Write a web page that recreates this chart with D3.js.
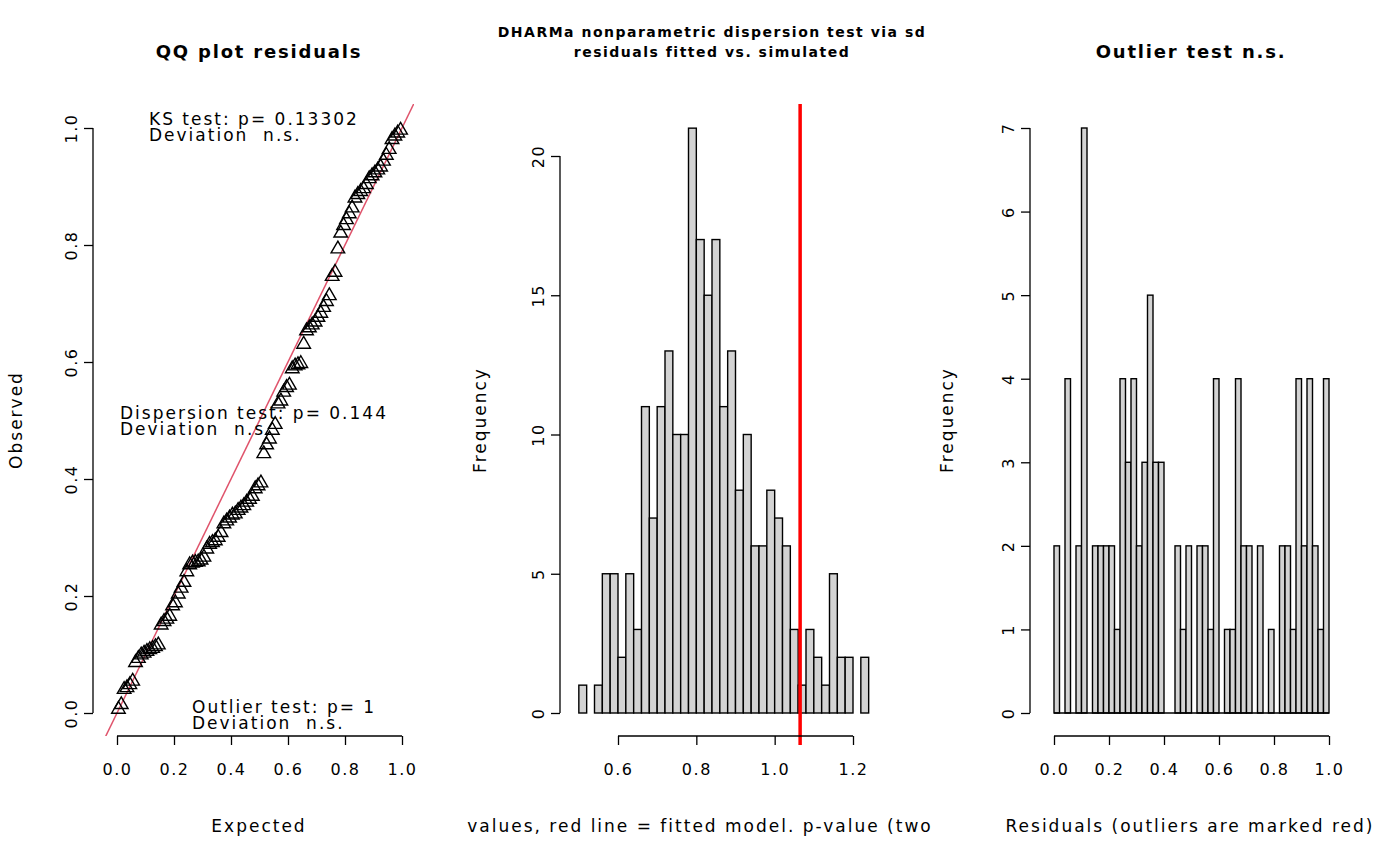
<!DOCTYPE html>
<html>
<head>
<meta charset="utf-8" />
<style>
  body { margin: 0; background: #fff; }
  text { font-family: "DejaVu Sans", sans-serif; fill: #000; white-space: pre; }
  .axis path, .axis line { stroke: #000; stroke-width: 1.3px; }
  .axis text { font-size: 16px; font-family: "DejaVu Sans", sans-serif; letter-spacing: 1.5px; }
  .bar { fill: #d3d3d3; stroke: #000; stroke-width: 1.4px; }
</style>
</head>
<body>
<svg id="chart" width="1400" height="866"></svg>
<script src="https://d3js.org/d3.v7.min.js"></script>
<script>
var svg = d3.select("#chart");

// ---- data ----
// sorted scaled residuals (QQ plot / right histogram)
var observed = [0.008,0.016,0.042,0.045,0.05,0.056,0.088,0.095,0.101,0.104,0.107,0.11,0.112,0.115,0.118,
  0.152,0.158,0.162,0.167,0.185,0.19,0.205,0.215,0.225,0.243,0.255,0.258,0.259,0.26,0.263,0.268,
  0.282,0.29,0.293,0.296,0.302,0.31,0.325,0.33,0.335,0.34,0.342,0.348,0.352,0.356,0.362,0.367,0.372,
  0.385,0.39,0.395,0.445,0.46,0.47,0.485,0.495,0.53,0.535,0.55,0.558,0.562,0.59,0.595,0.597,0.599,
  0.632,0.655,0.66,0.665,0.67,0.678,0.685,0.695,0.705,0.715,0.748,0.755,0.795,0.822,0.835,0.845,0.855,
  0.865,0.882,0.888,0.893,0.898,0.905,0.915,0.92,0.925,0.93,0.935,0.945,0.955,0.965,0.982,0.988,0.993,0.998];

// simulated sd histogram counts, bins of 0.02 starting at 0.50
var simCounts = [1,0,1,5,5,2,5,3,11,7,11,13,10,10,21,17,15,17,11,13,8,10,6,6,8,7,6,3,1,3,2,1,5,2,2,0,2];
var fittedSd = 1.065;

// residual histogram counts, bins of 0.02 from 0 to 1
var resCounts = [2,0,4,0,2,7,0,2,2,2,2,1,4,3,4,2,3,5,3,3,0,0,2,1,2,0,2,2,1,4,0,1,1,4,2,2,0,2,0,1,0,2,2,1,4,2,4,2,1,4];

function title(txt, cx, y, size, ls) {
  svg.append("text").attr("x", cx).attr("y", y).attr("text-anchor", "middle")
    .style("font-size", size + "px").style("font-weight", "bold").style("letter-spacing", ls + "px").text(txt);
}
function label(txt, x, y, rot) {
  var t = svg.append("text").attr("text-anchor", "middle").style("font-size", "17px")
    .style("letter-spacing", "2px").text(txt);
  if (rot) t.attr("transform", "translate(" + x + "," + y + ") rotate(-90)");
  else t.attr("x", x).attr("y", y);
}
function yAxis(scale, x, ticks, fmt) {
  var g = svg.append("g").attr("class", "axis").attr("transform", "translate(" + x + ",0)")
    .call(d3.axisLeft(scale).tickValues(ticks).tickSize(9).tickSizeOuter(0).tickFormat(fmt));
  g.selectAll(".tick text").attr("transform", "rotate(-90)").attr("x", 0).attr("y", -16)
    .attr("dy", "0").attr("text-anchor", "middle");
  g.select(".domain").attr("d", "M0," + scale(ticks[ticks.length-1]) + "V" + scale(ticks[0]));
}
function xAxis(scale, y, ticks, fmt) {
  var g = svg.append("g").attr("class", "axis").attr("transform", "translate(0," + y + ")")
    .call(d3.axisBottom(scale).tickValues(ticks).tickSize(9).tickSizeOuter(0).tickFormat(fmt));
  g.selectAll(".tick text").attr("y", 28);
  g.select(".domain").attr("d", "M" + scale(ticks[0]) + ",0H" + scale(ticks[ticks.length-1]));
}
var f1 = d3.format(".1f");
var f0 = function(d) { return String(d); };

// ---------------- Panel 1: QQ plot ----------------
var x1 = d3.scaleLinear().domain([0, 1]).range([117, 402]);
var y1 = d3.scaleLinear().domain([0, 1]).range([713, 128]);
var n = observed.length;
var qq = observed.map(function(d, i) { return { e: (i + 0.5) / n, o: d }; });

svg.append("defs").append("clipPath").attr("id", "clip1")
  .append("rect").attr("x", 105).attr("y", 104).attr("width", 309).attr("height", 632);
svg.append("line").attr("clip-path", "url(#clip1)")
  .attr("x1", x1(-0.1)).attr("y1", y1(-0.1)).attr("x2", x1(1.1)).attr("y2", y1(1.1))
  .attr("stroke", "#DF536B").attr("stroke-width", 1.5);

svg.append("g").selectAll("path").data(qq).enter().append("path")
  .attr("d", d3.symbol(d3.symbolTriangle, 80))
  .attr("transform", function(d) { return "translate(" + x1(d.e) + "," + (y1(d.o) + 1) + ")"; })
  .attr("fill", "none").attr("stroke", "#000").attr("stroke-width", 1.4);

yAxis(y1, 93, [0, 0.2, 0.4, 0.6, 0.8, 1.0], f1);
xAxis(x1, 736, [0, 0.2, 0.4, 0.6, 0.8, 1.0], f1);
title("QQ plot residuals", 259, 58, 18, 1.8);
label("Expected", 259, 832);
label("Observed", 22, 420, true);

function note(lines, x, y) {
  lines.forEach(function(s, i) {
    svg.append("text").attr("x", x).attr("y", y + i * 16).style("font-size", "17px")
      .style("letter-spacing", "2px").text(s);
  });
}
note(["KS test: p= 0.13302", "Deviation  n.s."], 149, 125);
note(["Dispersion test: p= 0.144", "Deviation  n.s."], 120, 419);
note(["Outlier test: p= 1", "Deviation  n.s."], 192, 713);

// ---------------- Panel 2: dispersion histogram ----------------
var x2 = d3.scaleLinear().domain([0.6, 1.2]).range([618, 853]);
var y2 = d3.scaleLinear().domain([0, 20]).range([713, 156]);
var sim = simCounts.map(function(c, i) { return { x0: 0.50 + i * 0.02, c: c }; });
svg.append("g").selectAll("rect").data(sim).enter().append("rect").attr("class", "bar")
  .attr("x", function(d) { return x2(d.x0); })
  .attr("width", function(d) { return x2(d.x0 + 0.02) - x2(d.x0); })
  .attr("y", function(d) { return y2(d.c); })
  .attr("height", function(d) { return y2(0) - y2(d.c); });
svg.append("line").attr("x1", x2(fittedSd)).attr("x2", x2(fittedSd)).attr("y1", 104).attr("y2", 745)
  .attr("stroke", "#ff0000").attr("stroke-width", 3.5);
yAxis(y2, 560, [0, 5, 10, 15, 20], f0);
xAxis(x2, 736, [0.6, 0.8, 1.0, 1.2], f1);
title("DHARMa nonparametric dispersion test via sd", 712, 37, 14, 1.5);
title("residuals fitted vs. simulated", 712, 57, 14, 1.5);
label("values, red line = fitted model. p-value (two", 700, 832);
label("Frequency", 486, 420, true);

// ---------------- Panel 3: residual histogram ----------------
var x3 = d3.scaleLinear().domain([0, 1]).range([1054, 1329]);
var y3 = d3.scaleLinear().domain([0, 7]).range([713, 128]);
var res = resCounts.map(function(c, i) { return { x0: i * 0.02, c: c }; });
svg.append("g").selectAll("rect").data(res).enter().append("rect").attr("class", "bar")
  .attr("x", function(d) { return x3(d.x0); })
  .attr("width", function(d) { return x3(d.x0 + 0.02) - x3(d.x0); })
  .attr("y", function(d) { return y3(d.c); })
  .attr("height", function(d) { return y3(0) - y3(d.c); });
svg.append("line").attr("x1", x3(0)).attr("x2", x3(1)).attr("y1", y3(0)).attr("y2", y3(0))
  .attr("stroke", "#000").attr("stroke-width", 1.4);
yAxis(y3, 1030, [0, 1, 2, 3, 4, 5, 6, 7], f0);
xAxis(x3, 736, [0, 0.2, 0.4, 0.6, 0.8, 1.0], f1);
title("Outlier test n.s.", 1191, 58, 18, 1.8);
label("Residuals (outliers are marked red)", 1190, 832);
label("Frequency", 953, 420, true);
</script>
</body>
</html>
